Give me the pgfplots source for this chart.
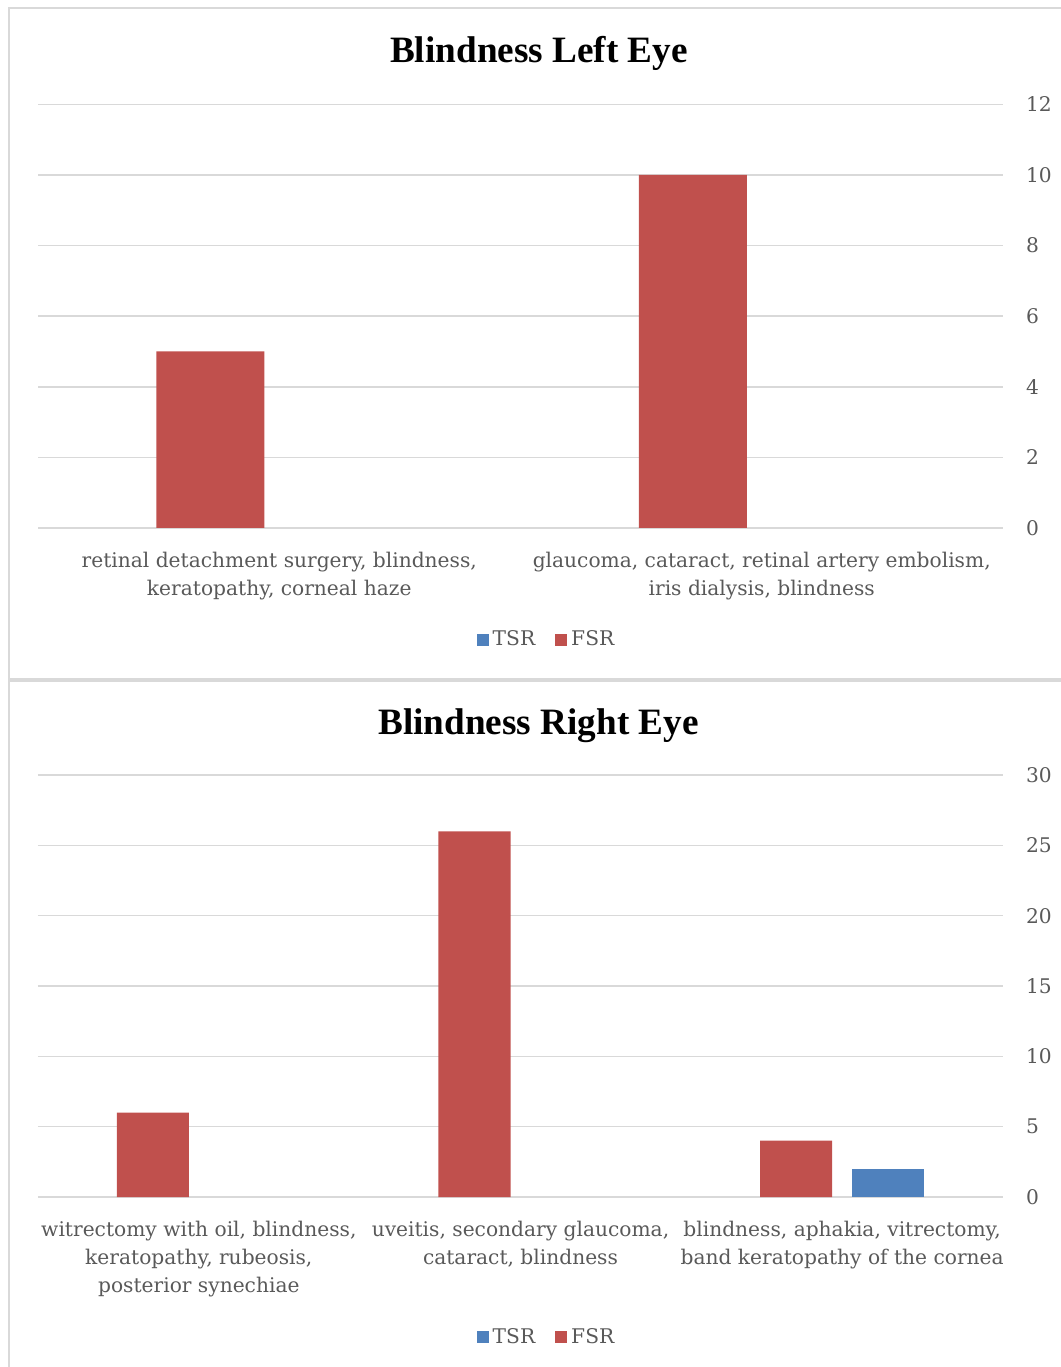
\documentclass[border=0pt]{standalone}
\usepackage{pgfplots}
\pgfplotsset{compat=1.18}
\usepackage{fontspec}
\setmainfont{DejaVu Serif}
\newfontfamily\titlefont{Liberation Serif}
\definecolor{fsr}{HTML}{C0504D}
\definecolor{tsr}{HTML}{4F81BD}
\definecolor{gridc}{HTML}{D9D9D9}
\definecolor{txt}{HTML}{595959}
\pgfplotsset{eyestyle/.style={
  scale only axis, width=482.5pt,
  axis line style={draw=none},
  ymajorgrids, grid style={gridc, line width=0.75pt},
  major tick length=0pt,
  ybar, ymin=0,
  yticklabel pos=right,
  tick label style={font=\fontsize{10.1}{14}\selectfont, text=txt},
  xticklabel style={align=center, anchor=north, yshift=-8.5pt},
  yticklabel style={anchor=west, xshift=8pt},
  /pgf/number format/assume math mode=true,
  legend style={draw=none, font=\fontsize{10.1}{14}\selectfont, text=txt, legend columns=-1, anchor=center,
    /tikz/every even column/.append style={column sep=8pt}},
  legend image code/.code={\fill[##1, draw=none] (1pt,-3pt) rectangle (7pt,3pt);},
}}
\begin{document}
\begin{tikzpicture}
\useasboundingbox (0,0) rectangle (530.5pt,683.5pt);
% panel borders
\draw[gridc, line width=1pt] (540pt,344pt) -- (4.25pt,344pt) -- (4.25pt,679.5pt) -- (540pt,679.5pt);
\draw[gridc, line width=1pt] (540pt,343pt) -- (4.25pt,343pt) -- (4.25pt,-5pt);
% titles
\node[font=\titlefont\bfseries\fontsize{18.6}{22}\selectfont, anchor=base] at (269.5pt,652pt) {Blindness Left Eye};
\node[font=\titlefont\bfseries\fontsize{18.6}{22}\selectfont, anchor=base] at (269.25pt,316pt) {Blindness Right Eye};
% top chart
\begin{axis}[eyestyle, at={(19pt,419.5pt)}, anchor=south west,
  height=211.8pt, ymax=12, ytick={0,2,...,12},
  xmin=-0.5, xmax=1.5, xtick={0,1},
  xticklabels={{retinal detachment surgery, blindness,\\keratopathy, corneal haze},{glaucoma, cataract, retinal artery embolism,\\iris dialysis, blindness}},
  legend style={at={(0.528,-0.264)}}]
\addlegendimage{fill=tsr}\addlegendentry{TSR}
\addlegendimage{fill=fsr}\addlegendentry{FSR}
\addplot[fill=fsr, draw=none, bar width=54pt, bar shift=-34.5pt, forget plot] coordinates {(0,5) (1,10)};
\end{axis}
% bottom chart
\begin{axis}[eyestyle, at={(19pt,85pt)}, anchor=south west,
  height=211pt, ymax=30, ytick={0,5,...,30},
  xmin=-0.5, xmax=2.5, xtick={0,1,2},
  xticklabels={{witrectomy with oil, blindness,\\keratopathy, rubeosis,\\posterior synechiae},{uveitis, secondary glaucoma,\\cataract, blindness},{blindness, aphakia, vitrectomy,\\band keratopathy of the cornea}},
  legend style={at={(0.528,-0.332)}}]
\addlegendimage{fill=tsr}\addlegendentry{TSR}
\addlegendimage{fill=fsr}\addlegendentry{FSR}
\addplot[fill=fsr, draw=none, bar width=36pt, bar shift=-23pt, forget plot] coordinates {(0,6) (1,26) (2,4)};
\addplot[fill=tsr, draw=none, bar width=36pt, bar shift=23pt, forget plot] coordinates {(2,2)};
\end{axis}
\end{tikzpicture}
\end{document}
